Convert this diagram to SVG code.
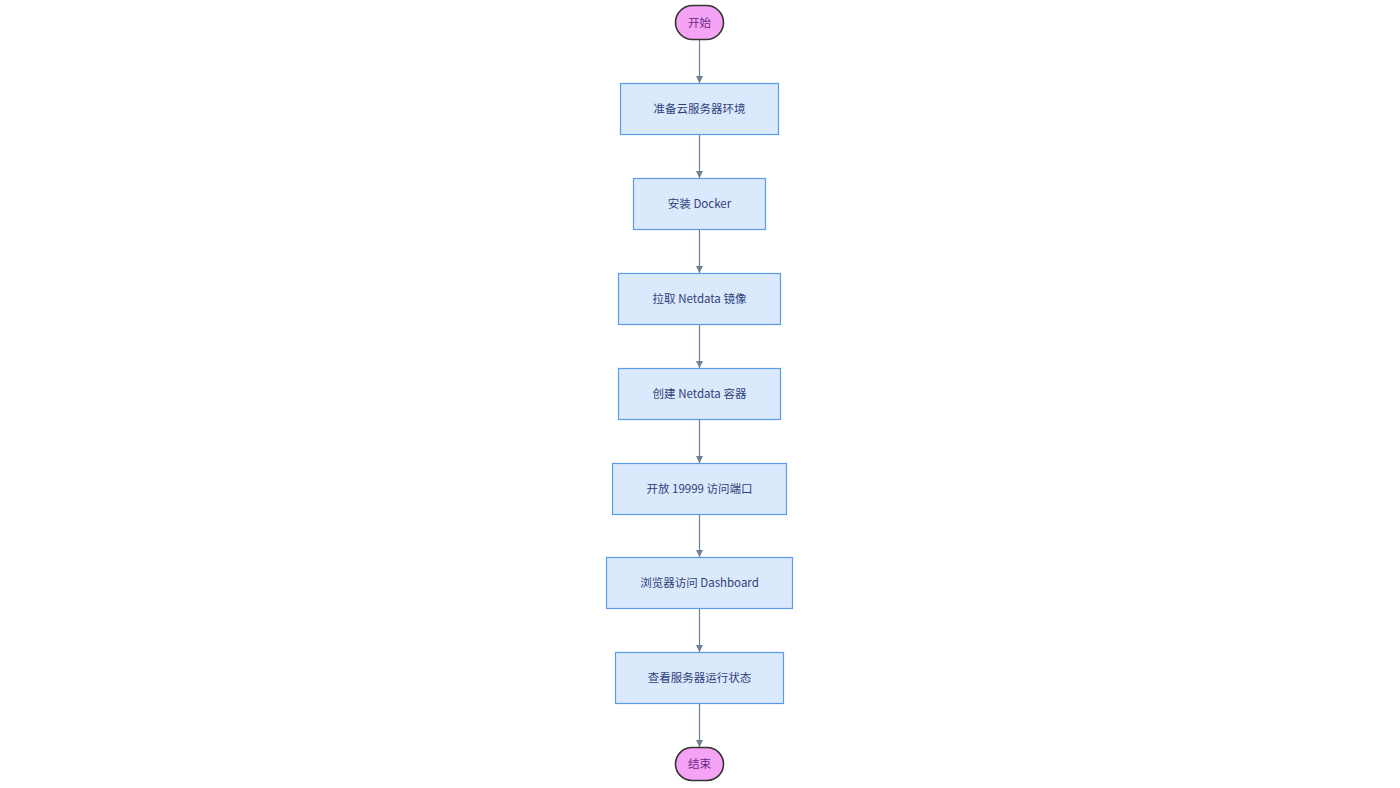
<svg xmlns="http://www.w3.org/2000/svg" width="1400" height="788" viewBox="0 0 1400 788">
<style>
.term{fill:#f5a3f5;stroke:#333333;stroke-width:1.6}
.box{fill:#dbe9fd;stroke:#5b9ce8;stroke-width:1.2}
.lbl{font-family:"Noto Sans CJK SC","Noto Sans",sans-serif;font-size:11.5px;fill:#2f3f7a;text-anchor:middle;dominant-baseline:central}
.tl{fill:#6a2a8a}
.edge{stroke:#6b7f99;stroke-width:1.2;fill:none}
</style>
<defs>
<marker id="arr" viewBox="0 0 10 10" refX="10" refY="5" markerWidth="7" markerHeight="7" orient="auto" markerUnits="userSpaceOnUse">
<path d="M0,0 L10,5 L0,10 z" fill="#6b7f99"/>
</marker>
</defs>
<rect width="1400" height="788" fill="#ffffff"/>
<g id="connectors">
<line class="edge" x1="699.5" y1="40" x2="699.5" y2="83" marker-end="url(#arr)"/>
<line class="edge" x1="699.5" y1="134" x2="699.5" y2="178" marker-end="url(#arr)"/>
<line class="edge" x1="699.5" y1="229" x2="699.5" y2="273" marker-end="url(#arr)"/>
<line class="edge" x1="699.5" y1="324" x2="699.5" y2="368" marker-end="url(#arr)"/>
<line class="edge" x1="699.5" y1="419" x2="699.5" y2="463" marker-end="url(#arr)"/>
<line class="edge" x1="699.5" y1="514" x2="699.5" y2="557" marker-end="url(#arr)"/>
<line class="edge" x1="699.5" y1="608" x2="699.5" y2="652" marker-end="url(#arr)"/>
<line class="edge" x1="699.5" y1="703" x2="699.5" y2="747" marker-end="url(#arr)"/>
</g>
<g id="start">
<rect class="term" x="675.5" y="5.5" width="48" height="34" rx="17" ry="17"/>
<text class="lbl tl" x="699.5" y="21.5">开始</text>
</g>
<g id="n1">
<rect class="box" x="620.5" y="83.5" width="158" height="51"/>
<text class="lbl" x="699.5" y="107.5">准备云服务器环境</text>
</g>
<g id="n2">
<rect class="box" x="633.5" y="178.5" width="132" height="51"/>
<text class="lbl" x="699.5" y="202.5">安装 Docker</text>
</g>
<g id="n3">
<rect class="box" x="618.5" y="273.5" width="162" height="51"/>
<text class="lbl" x="699.5" y="297.5">拉取 Netdata 镜像</text>
</g>
<g id="n4">
<rect class="box" x="618.5" y="368.5" width="162" height="51"/>
<text class="lbl" x="699.5" y="392.5">创建 Netdata 容器</text>
</g>
<g id="n5">
<rect class="box" x="612.5" y="463.5" width="174" height="51"/>
<text class="lbl" x="699.5" y="487.5">开放 19999 访问端口</text>
</g>
<g id="n6">
<rect class="box" x="606.5" y="557.5" width="186" height="51"/>
<text class="lbl" x="699.5" y="581.5">浏览器访问 Dashboard</text>
</g>
<g id="n7">
<rect class="box" x="615.5" y="652.5" width="168" height="51"/>
<text class="lbl" x="699.5" y="676.5">查看服务器运行状态</text>
</g>
<g id="end">
<rect class="term" x="675.5" y="747.5" width="48" height="33" rx="16.5" ry="16.5"/>
<text class="lbl tl" x="699.5" y="763">结束</text>
</g>
</svg>
